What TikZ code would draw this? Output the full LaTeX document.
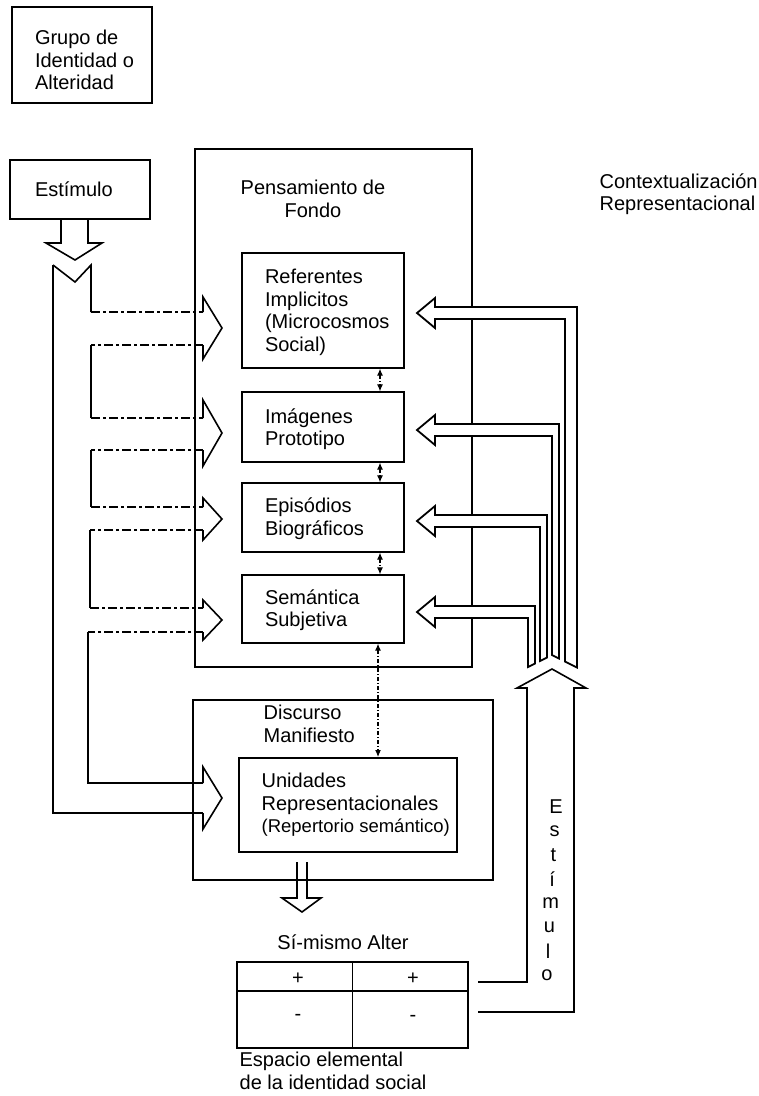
\documentclass[tikz,border=0pt]{standalone}
\usepackage{fontspec}
\setmainfont{Liberation Sans}
\usetikzlibrary{positioning}
\usetikzlibrary{arrows.meta}

\begin{document}
\begin{tikzpicture}[x=1pt,y=-1pt,line width=1.3pt,
      every node/.style={font=\fontsize{20}{22.5}\selectfont,inner sep=0pt},
      box/.style={rectangle,draw=black,line width=1.3pt},
      txt/.style={align=left,anchor=west},
      feed/.style={line width=1.6pt,dash pattern=on 9pt off 3pt on 3pt off 3pt},
      wall/.style={line width=1.6pt},
      link/.style={line width=1.1pt,dash pattern=on 4pt off 2pt on 1pt off 2pt,
                   {Latex[length=7pt,width=6pt]}-{Latex[length=7pt,width=6pt]}},
      pipe/.style={line width=1.8pt,fill=white}]
\useasboundingbox (0,0) rectangle (759,1096);

% boxes
\node (grupo) [box,minimum width=140pt,minimum height=96pt] at (82,55) {};
\node (grupot) [txt,right=23pt of grupo.west,yshift=-5pt] {Grupo de\\Identidad o\\Alteridad};
\node (estim) [box,minimum width=140pt,minimum height=59pt] at (80,189.5) {};
\node (estimt) [txt,right=25pt of estim.west] {Estímulo};

\node (fondo) [box,minimum width=277pt,minimum height=518pt] at (333.5,408) {};
\node (fondot) [align=center] at (313,199) {Pensamiento de\\Fondo};
\node (ctx) [txt] at (599,194) {Contextualización\\Representacional};

\node (ref) [box,minimum width=162pt,minimum height=115pt] at (323,310.5) {};
\node (reft) [txt,right=23pt of ref.west,yshift=-2pt] {Referentes\\Implicitos\\(Microcosmos\\Social)};
\node (img) [box,minimum width=162pt,minimum height=70pt] at (323,427) {};
\node (imgt) [txt,right=23pt of img.west,yshift=-2pt] {Imágenes\\Prototipo};
\node (epi) [box,minimum width=162pt,minimum height=69pt] at (323,517.5) {};
\node (epit) [txt,right=23pt of epi.west,yshift=-1pt] {Episódios\\Biográficos};
\node (sem) [box,minimum width=162pt,minimum height=68pt] at (323,609) {};
\node (semt) [txt,right=23pt of sem.west,yshift=-1pt] {Semántica\\Subjetiva};

\node (disc) [box,minimum width=300pt,minimum height=180pt] at (343,790) {};
\node (disct) [txt] at (263,724) {Discurso\\Manifiesto};
\node (uni) [box,line width=2pt,minimum width=218pt,minimum height=94pt] at (348,805) {};
\node (unit) [txt,right=23pt of uni.west] {Unidades\\Representacionales\\{\fontsize{18.5}{22.5}\selectfont(Repertorio semántico)}};

\node (self) at (343,942) {Sí-mismo Alter};
\node (tab) [box,minimum width=231pt,minimum height=86pt] at (352.5,1005) {};
\draw (tab.north) -- (tab.south);
\draw ([yshift=14pt]tab.west) -- ([yshift=14pt]tab.east);
\node (p1) at (298,979) {+};
\node (p2) at (413,979) {+};
\node (m1) at (298,1017) {-};
\node (m2) at (413,1018) {-};
\node (espt) [txt] at (239,1071) {Espacio elemental\\de la identidad social};

% links between the layers
\draw[link] ([xshift=57pt]ref.south) -- ([xshift=57pt]img.north);
\draw[link] ([xshift=57pt]img.south) -- ([xshift=57pt]epi.north);
\draw[link] ([xshift=57pt]epi.south) -- ([xshift=57pt]sem.north);
\draw[link] ([xshift=55pt]sem.south) -- ([xshift=30pt]uni.north);

% stimulus from the left
\draw[wall] (61,219) -- (61,243) -- (46,243) -- (75,260) -- (102,243) -- (88,243) -- (88,219);
\draw[wall] (53,265) -- (53,813) -- (203,813);
\draw[wall] (53,265) -- (75,282) -- (91,265) -- (91,312);
\draw[feed] (91,312) -- (203,312);
\draw[feed] (203,345) -- (91,345);
\draw[wall] (91,345) -- (91,418);
\draw[feed] (91,418) -- (203,418);
\draw[feed] (203,450) -- (91,450);
\draw[wall] (91,450) -- (91,507);
\draw[feed] (91,507) -- (203,507);
\draw[feed] (203,530) -- (90,530);
\draw[wall] (90,530) -- (90,608);
\draw[feed] (90,608) -- (203,608);
\draw[feed] (203,632) -- (88,632);
\draw[wall] (88,632) -- (88,783) -- (203,783);
\foreach \t/\c/\b/\h in {312/328/345/31, 418/433/450/33, 507/519/530/21,
                         608/620/632/20, 783/798/813/31}
  \draw[wall] (203,\t) -- (203,{\c-\h}) -- (222,\c) -- (203,{\c+\h}) -- (203,\b);

% contextualisation from the right
\foreach \c/\xo/\xi/\yo/\yi in {313/577/565/667.5/661.5, 430/559/552/658.5/655,
                                521/547/540/657.5/661, 612/535/528/663.5/667}
  \draw[pipe] (417,\c) -- (435,{\c-15}) -- (435,{\c-6}) -- (\xo,{\c-6}) -- (\xo,\yo)
    -- (\xi,\yi) -- (\xi,{\c+6}) -- (435,{\c+6}) -- (435,{\c+15}) -- cycle;

% stimulus from below
\coordinate (s1) at (478,982);
\coordinate (s2) at (478,1012);
\draw[wall] (s1) -- (527,982) -- (527,688) -- (517,688) -- (552,669) -- (586,688)
  -- (574,688) -- (574,1012) -- (s2);
\foreach \l [count=\k from 0] in {E,s,t,í,m,u,l,o}
  \node (e\k) at ({556-1.3*\k},{807+24*\k}) {\l};

% output
\draw[wall] (297,862) -- (297,898) -- (282,898) -- (302,912) -- (321,898) -- (307,898) -- (307,862);
\end{tikzpicture}
\end{document}
